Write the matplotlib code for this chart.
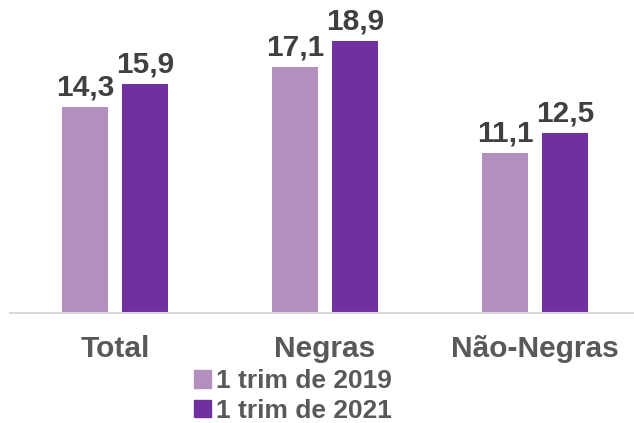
import matplotlib.pyplot as plt
import numpy as np
from matplotlib.patches import Patch

categories = ["Total", "Negras", "Não-Negras"]
series_names = ["1 trim de 2019", "1 trim de 2021"]
v2019 = [14.3, 17.1, 11.1]
v2021 = [15.9, 18.9, 12.5]
colors = ["#B38FC0", "#7030A0"]

plt.rcParams["font.family"] = ["Liberation Sans", "DejaVu Sans"]
plt.rcParams["font.weight"] = "bold"

fig = plt.figure(figsize=(6.34, 4.23), dpi=100)
ax = fig.add_axes([10 / 634, 110 / 423, 630 / 634, 288 / 423])

x = np.arange(len(categories))
w = 0.219
off = 0.143
for vals, c, dx in [(v2019, colors[0], -off), (v2021, colors[1], off)]:
    bars = ax.bar(x + dx, vals, w, color=c)
    for b, v in zip(bars, vals):
        ax.annotate(f"{v:.1f}".replace(".", ","), (b.get_x() + b.get_width() / 2, v),
                    xytext=(0, 4), textcoords="offset points", ha="center", va="bottom",
                    fontsize=21.5, fontweight="bold", color="#404040")

ax.set_xlim(-0.5, 2.5)
ax.set_ylim(0, 20)
ax.set_yticks([])
ax.set_xticks(x)
ax.set_xticklabels(categories, fontsize=21.5, fontweight="bold", color="#595959")
ax.tick_params(axis="x", length=0, pad=16)
for s in ["top", "right", "left"]:
    ax.spines[s].set_visible(False)
ax.spines["bottom"].set_color("#D9D9D9")
ax.spines["bottom"].set_linewidth(1.5)

handles = [Patch(color=c) for c in colors]
fig.legend(handles, series_names, loc="center left", bbox_to_anchor=(170 / 634, 27 / 423),
           frameon=False, handlelength=0.65, handleheight=0.65,
           handletextpad=0.2, labelspacing=0.2, labelcolor="#595959",
           prop={"weight": "bold", "size": 19})

fig.savefig("out.png", dpi=100)
